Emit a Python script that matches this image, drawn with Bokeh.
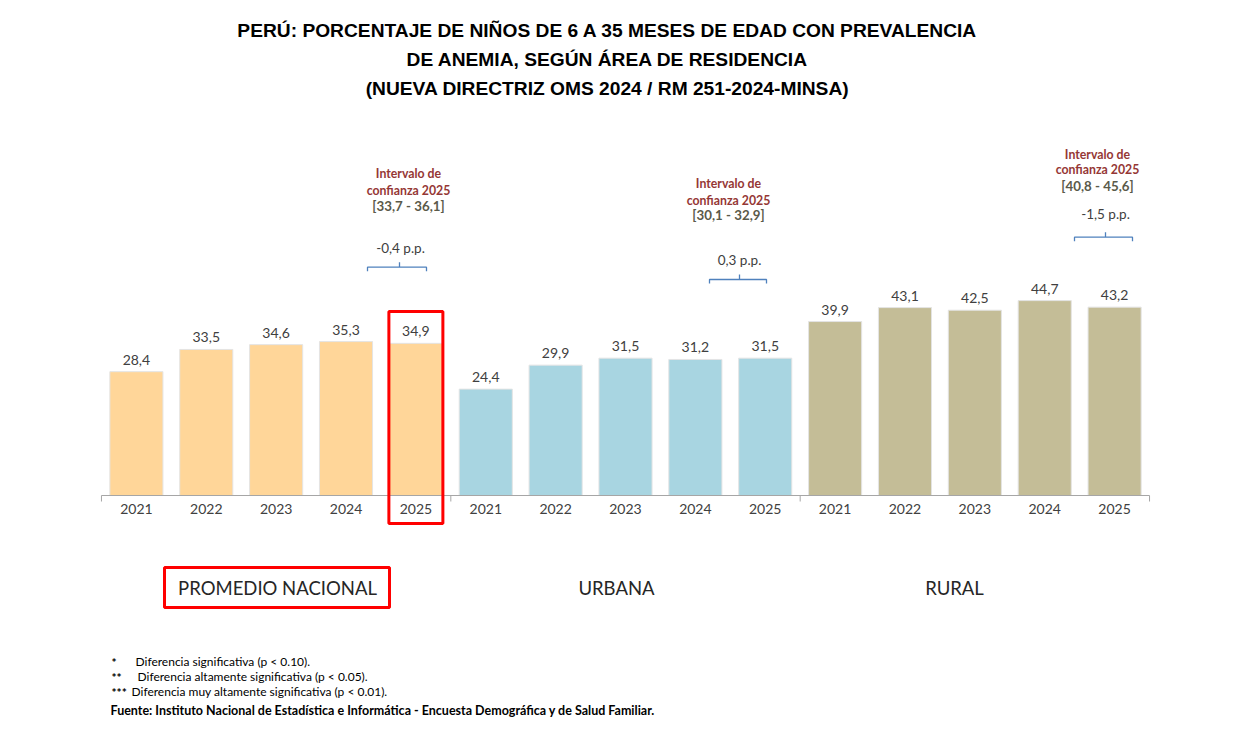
from bokeh.plotting import figure
from bokeh.models import FactorRange, Range1d, ColumnDataSource, CustomJSTickFormatter
from bokeh.core.properties import value
from bokeh.embed import file_html
from bokeh.resources import INLINE

# ---------------- data ----------------
areas = ["PROMEDIO NACIONAL", "URBANA", "RURAL"]
years = ["2021", "2022", "2023", "2024", "2025"]
nacional = [28.4, 33.5, 34.6, 35.3, 34.9]
urbana = [24.4, 29.9, 31.5, 31.2, 31.5]
rural = [39.9, 43.1, 42.5, 44.7, 43.2]
ic_2025 = ["[33,7 - 36,1]", "[30,1 - 32,9]", "[40,8 - 45,6]"]
dif_pp = ["-0,4 p.p.", "0,3 p.p.", "-1,5 p.p."]
title_lines = [
    "PERÚ: PORCENTAJE DE NIÑOS DE 6 A 35 MESES DE EDAD CON PREVALENCIA",
    "DE ANEMIA, SEGÚN ÁREA DE RESIDENCIA",
    "(NUEVA DIRECTRIZ OMS 2024 / RM 251-2024-MINSA)",
]
note_marks = ["*", "**", "***"]
note_texts = [
    "Diferencia significativa (p < 0.10).",
    "Diferencia altamente significativa (p < 0.05).",
    "Diferencia muy altamente significativa (p < 0.01).",
]
source_note = "Fuente: Instituto Nacional de Estadística e Informática - Encuesta Demográfica y de Salud Familiar."

# ---------------- styles / geometry ----------------
area_colors = ["#FFD699", "#A8D5E1", "#C4BD97"]
W, H = 1250, 735
BASE_PX = 495.0      # pixel row of value 0
PPY = 4.36           # pixels per percentage point
PAD = 1.445          # x padding (category units, each side)
NF = len(areas) * len(years)
PPX = W / (NF + 2 * PAD)

def X(px):
    return px / PPX - PAD

def Y(py):
    return (BASE_PX - py) / PPY

series = [nacional, urbana, rural]
factors, tops, cols, labels = [], [], [], []
for a, vals, c in zip(areas, series, area_colors):
    for yr, v in zip(years, vals):
        factors.append(f"{a} {yr}")
        tops.append(v)
        cols.append(c)
        labels.append(f"{v:.1f}".replace(".", ","))

src = ColumnDataSource(dict(x=factors, top=tops, color=cols, label=labels))

p = figure(
    width=W, frame_width=W, frame_height=H,
    x_range=FactorRange(factors=factors, range_padding=PAD, range_padding_units="absolute"),
    y_range=Range1d(Y(H), Y(0)),
    output_backend="svg", toolbar_location=None,
    y_axis_location=None, min_border=0, outline_line_color=None,
)
p.xgrid.visible = False
p.ygrid.visible = False

ax = p.xaxis[0]
ax.fixed_location = 0
ax.formatter = CustomJSTickFormatter(code="return String(tick).slice(-4);")
ax.major_tick_out = 0
ax.major_tick_in = 0
ax.axis_line_color = None
ax.major_label_standoff = 8
ax.major_label_text_font = "Lato"
ax.major_label_text_font_size = "14px"
ax.major_label_text_color = "#404040"

# bars
p.vbar(x="x", top="top", width=0.76, fill_color="color", line_color="#E4E4E4", line_width=1, source=src)
p.text(x="x", y="top", text="label", source=src, text_align="center", text_baseline="alphabetic",
       y_offset=-12, text_font=value("Lato"), text_font_size="14px", text_color="#404040")

# baseline and group ticks
p.segment(x0=[0], y0=[0], x1=[NF], y1=[0], line_color="#A6A6A6", line_width=1)
gb = [i * len(years) for i in range(len(areas) + 1)]
p.segment(x0=gb, y0=[0] * len(gb), x1=gb, y1=[Y(BASE_PX + 6)] * len(gb), line_color="#A6A6A6", line_width=1)

# title
for i, t in enumerate(title_lines):
    p.text(x=[X(607)], y=[Y(30 + 29 * i)], text=[t], text_align="center", text_baseline="middle",
           text_font=value("Liberation Sans"), text_font_style="bold", text_font_size="19.2px",
           text_color="#000000")

# confidence-interval annotations (pixel layout)
ann = [
    dict(tx=408, ty=(173, 190, 205), px=400, py=247, by=266.7, bx=(367, 426), bn=399),
    dict(tx=728, ty=(183, 200, 214), px=739, py=259, by=279.0, bx=(709, 766), bn=739),
    dict(tx=1097, ty=(154, 169, 185), px=1105, py=213, by=236.7, bx=(1074, 1132), bn=1105),
]
for a, ci, dp in zip(ann, ic_2025, dif_pp):
    p.text(x=[X(a["tx"])] * 2, y=[Y(a["ty"][0]), Y(a["ty"][1])], text=["Intervalo de", "confianza 2025"],
           text_align="center", text_baseline="middle", text_font=value("Lato"), text_font_style="bold",
           text_font_size="12.3px", text_color="#953735")
    p.text(x=[X(a["tx"])], y=[Y(a["ty"][2])], text=[ci], text_align="center", text_baseline="middle",
           text_font=value("Lato"), text_font_style="bold", text_font_size="13.3px", text_color="#5A5A4A")
    p.text(x=[X(a["px"])], y=[Y(a["py"])], text=[dp], text_align="center", text_baseline="middle",
           text_font=value("Lato"), text_font_size="13.5px", text_color="#404040")
    x0, x1 = a["bx"]
    xn, yb = a["bn"], a["by"]
    p.line(x=[X(x0), X(x0), X(xn), X(xn), X(xn), X(x1), X(x1)],
           y=[Y(yb + 4), Y(yb), Y(yb), Y(yb - 5), Y(yb), Y(yb), Y(yb + 4)],
           line_color="#4F81BD", line_width=1.3)

# group labels
gx = [X(277), X(616), X(954)]
p.text(x=gx, y=[Y(587)] * 3, text=areas, text_align="center", text_baseline="middle",
       text_font=value("Lato"), text_font_size="18.5px", text_color="#262626")

# red highlight boxes
p.rect(x=[factors[len(years) - 1]], y=[Y(417)], width=54 / PPX, height=212 / PPY,
       fill_color=None, line_color="#FF0000", line_width=3)
p.rect(x=[X(276.5)], y=[Y(587)], width=225 / PPX, height=40 / PPY,
       fill_color=None, line_color="#FF0000", line_width=3)

# footnotes
ny = [661, 676, 691]
p.text(x=[X(111)] * 3, y=[Y(v + 1) for v in ny], text=note_marks, text_align="left", text_baseline="middle",
       text_font=value("Lato"), text_font_style="bold", text_font_size="12px", text_color="#000000")
p.text(x=[X(135), X(137), X(131)], y=[Y(v) for v in ny], text=note_texts, text_align="left",
       text_baseline="middle", text_font=value("Lato"), text_font_size="12px", text_color="#000000")
p.text(x=[X(110)], y=[Y(710)], text=[source_note], text_align="left", text_baseline="middle",
       text_font=value("Lato"), text_font_style="bold", text_font_size="12.5px", text_color="#000000")

open("out.html", "w").write(file_html(p, INLINE))
